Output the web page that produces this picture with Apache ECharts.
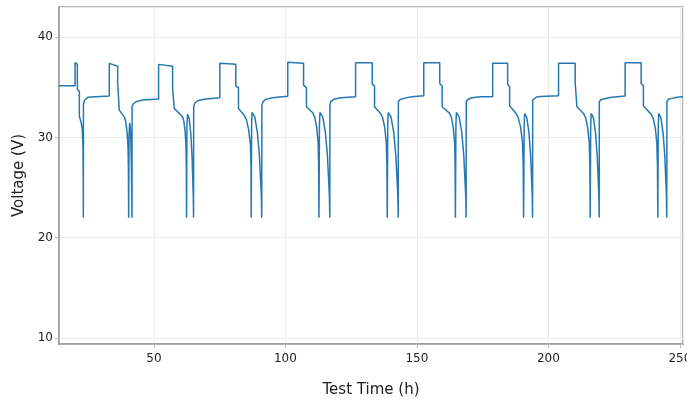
<!DOCTYPE html>
<html>
<head>
<meta charset="utf-8">
<script src="https://cdn.jsdelivr.net/npm/echarts@6/dist/echarts.min.js"></script>
<style>
  html, body { margin: 0; padding: 0; background: #fff; }
  #chart { width: 687px; height: 400px; }
</style>
</head>
<body>
<div id="chart"></div>
<script>
// voltage trace: [test time (h), voltage (V)]
var cycle01 = [[13.9, 35.14], [20.0, 35.14], [20.0, 37.45], [20.88, 37.3], [20.88, 34.8], [21.64, 34.6],
    [21.64, 32.1], [22.3, 31.5], [22.75, 30.8], [23.0, 29.0], [23.12, 26.0], [23.16, 22.0],
    [23.2, 33.3], [23.6, 33.7], [24.83, 33.99], [28.0, 34.05], [33.03, 34.12]];
var cycle02 = [[33.03, 37.38], [36.22, 37.1], [36.22, 35.38], [36.82, 35.25], [36.82, 32.72], [38.72, 32.05],
    [39.25, 31.6], [39.77, 30.6], [40.15, 29.1], [40.3, 26.9], [40.39, 22.0],
    [40.55, 30.3], [40.77, 31.46], [41.02, 31.0], [41.25, 29.5], [41.44, 27.2], [41.6, 23.2], [41.65, 22.0],
    [41.7, 33.05], [42.0, 33.3], [43.17, 33.55], [45.71, 33.72], [51.78, 33.82]];
var cycle03 = [[51.78, 37.28], [57.1, 37.1], [57.1, 34.95], [57.71, 34.79], [57.71, 32.89], [60.9, 32.05],
    [61.38, 31.6], [61.85, 30.6], [62.2, 29.1], [62.33, 26.9], [62.41, 22.0],
    [62.55, 31.1], [62.79, 32.3], [63.43, 31.85], [64.04, 30.3], [64.52, 28.0], [64.98, 24.0], [65.07, 22.0],
    [65.12, 33.05], [65.5, 33.4], [66.59, 33.65], [69.0, 33.8], [75.06, 33.95]];
var cycle04 = [[75.06, 37.38], [81.13, 37.28], [81.13, 35.11], [82.16, 34.95], [82.16, 32.89], [84.28, 32.22],
    [85.18, 31.75], [86.05, 30.75], [86.7, 29.25], [86.92, 27.0], [87.0, 22.0],
    [87.15, 31.3], [87.3, 32.49], [88.34, 32.05], [89.34, 30.5], [90.11, 28.2], [90.85, 24.2], [91.0, 22.0],
    [91.05, 33.2], [91.5, 33.55], [92.52, 33.79], [95.0, 33.95], [100.9, 34.1]];
var cycle05 = [[100.9, 37.48], [106.9, 37.38], [106.9, 35.21], [108.0, 34.95], [108.0, 33.05], [110.4, 32.45],
    [111.15, 32.0], [111.9, 31.0], [112.43, 29.5], [112.65, 27.2], [112.76, 22.0],
    [112.95, 31.3], [113.14, 32.5], [114.19, 32.05], [115.2, 30.5], [115.98, 28.2], [116.73, 24.2], [116.88, 22.0],
    [116.93, 33.2], [117.3, 33.6], [118.45, 33.8], [121.0, 33.95], [126.69, 34.05]];
var cycle06 = [[126.69, 37.44], [133.03, 37.44], [133.03, 35.31], [133.9, 35.11], [133.9, 33.05], [136.18, 32.39],
    [137.0, 31.95], [137.79, 30.95], [138.37, 29.45], [138.6, 27.2], [138.73, 22.0],
    [138.92, 31.3], [139.1, 32.49], [140.16, 32.05], [141.19, 30.5], [141.99, 28.2], [142.75, 24.2], [142.9, 22.0],
    [142.95, 33.55], [143.5, 33.75], [145.03, 33.89], [148.0, 34.05], [152.62, 34.15]];
var cycle07 = [[152.62, 37.44], [158.69, 37.44], [158.69, 35.38], [159.6, 35.11], [159.6, 33.05], [162.49, 32.39],
    [163.18, 31.95], [163.85, 30.95], [164.35, 29.45], [164.54, 27.2], [164.65, 22.0],
    [164.84, 31.3], [165.03, 32.49], [166.06, 32.05], [167.06, 30.5], [167.83, 28.2], [168.57, 24.2], [168.72, 22.0],
    [168.77, 33.55], [169.5, 33.8], [170.99, 33.95], [174.0, 34.05], [178.82, 34.05]];
var cycle08 = [[178.82, 37.38], [184.51, 37.38], [184.51, 35.28], [185.27, 35.05], [185.27, 33.15], [187.43, 32.49],
    [188.44, 32.05], [189.42, 31.05], [190.15, 29.55], [190.43, 27.3], [190.59, 22.0],
    [190.8, 31.2], [190.97, 32.39], [191.82, 31.95], [192.64, 30.4], [193.27, 28.1], [193.88, 24.1], [194.0, 22.0],
    [194.05, 33.72], [194.6, 33.9], [195.67, 34.05], [199.0, 34.1], [203.87, 34.15]];
var cycle09 = [[203.87, 37.38], [210.21, 37.38], [210.21, 35.38], [210.86, 35.21], [210.86, 33.05], [213.36, 32.39],
    [214.18, 31.95], [214.97, 30.95], [215.55, 29.45], [215.78, 27.2], [215.91, 22.0],
    [216.1, 31.2], [216.29, 32.39], [217.14, 31.95], [217.96, 30.4], [218.6, 28.1], [219.21, 24.1], [219.33, 22.0],
    [219.38, 33.55], [219.9, 33.75], [220.96, 33.82], [224.0, 34.0], [229.2, 34.12]];
var cycle10 = [[229.2, 37.44], [235.28, 37.44], [235.28, 35.38], [236.15, 35.14], [236.15, 33.12], [239.07, 32.32],
    [239.89, 31.9], [240.68, 30.9], [241.26, 29.4], [241.49, 27.1], [241.62, 22.0],
    [241.8, 31.2], [241.95, 32.39], [242.81, 31.95], [243.64, 30.4], [244.29, 28.1], [244.91, 24.1], [245.03, 22.0],
    [245.08, 33.55], [245.6, 33.8], [246.93, 33.89], [249.0, 34.0], [251.2, 34.05]];

var trace = [].concat(cycle01, cycle02, cycle03, cycle04, cycle05,
    cycle06, cycle07, cycle08, cycle09, cycle10);

var chart = echarts.init(document.getElementById('chart'));
var font = 'DejaVu Sans';
chart.setOption({
    animation: false,
    grid: {
        left: 59, right: 4, top: 7, bottom: 56,
        outerBoundsMode: 'none',
        containLabel: false,
        show: true, borderColor: '#9a9a9a', borderWidth: 1.5
    },
    xAxis: {
        type: 'value',
        min: 13.9, max: 251.2,
        minInterval: 50, maxInterval: 50,
        name: 'Test Time (h)',
        nameLocation: 'middle',
        nameGap: 39,
        nameTextStyle: { fontFamily: font, fontSize: 15, color: '#222' },
        axisLine: { show: true, lineStyle: { color: '#9a9a9a', width: 1.5 } },
        axisTick: { show: true, length: 4, lineStyle: { color: '#bbb' } },
        axisLabel: {
            fontFamily: font, fontSize: 12, color: '#222', margin: 9,
            showMinLabel: false, showMaxLabel: false,
            formatter: function (v) { return v % 50 === 0 ? v : ''; }
        },
        splitLine: { show: true, lineStyle: { color: '#ececec', width: 1 } }
    },
    yAxis: {
        type: 'value',
        min: 9.4, max: 43,
        minInterval: 10, maxInterval: 10,
        name: 'Voltage (V)',
        nameLocation: 'middle',
        nameGap: 31,
        nameTextStyle: { fontFamily: font, fontSize: 15, color: '#222' },
        axisLine: { show: true, lineStyle: { color: '#9a9a9a', width: 1.5 } },
        axisTick: { show: true, length: 4, lineStyle: { color: '#bbb' } },
        axisLabel: {
            fontFamily: font, fontSize: 12, color: '#222', margin: 6,
            showMinLabel: false, showMaxLabel: false,
            formatter: function (v) { return v % 10 === 0 ? v : ''; }
        },
        splitLine: { show: true, lineStyle: { color: '#ececec', width: 1 } }
    },
    series: [
        {
            type: 'line',
            data: trace,
            showSymbol: false,
            clip: true,
            lineStyle: { color: '#2678b2', width: 1.5 }
        }
    ]
});
</script>
</body>
</html>
